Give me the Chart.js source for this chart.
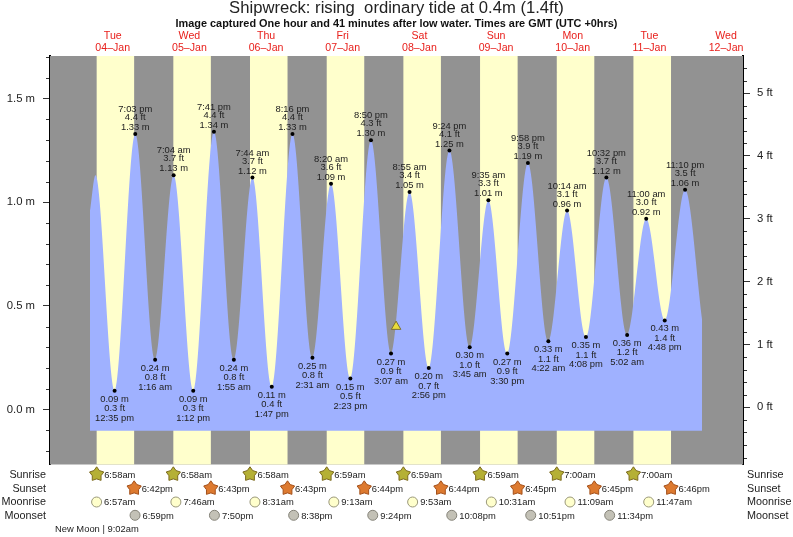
<!DOCTYPE html>
<html>
<head>
<meta charset="utf-8">
<title>Shipwreck tide chart</title>
<script src="https://cdn.jsdelivr.net/npm/chart.js@4/dist/chart.umd.min.js"></script>
<style>
  html, body { margin: 0; padding: 0; background: #fff; }
  canvas { display: block; }
</style>
</head>
<body>
<canvas id="tide_chart" width="793" height="537"></canvas>
<script>
// Tide turning points. Day is counted from 04-Jan.
var tideDays = [0, 0, 1, 1, 1, 1, 2, 2, 2, 2, 3, 3, 3, 3, 4, 4, 4, 4, 5, 5, 5, 5, 6, 6, 6, 6, 7, 7, 7, 7];
var tideClock = ['12:35 pm', '7:03 pm', '1:16 am', '7:04 am', '1:12 pm', '7:41 pm', '1:55 am', '7:44 am', '1:47 pm', '8:16 pm',
    '2:31 am', '8:20 am', '2:23 pm', '8:50 pm', '3:07 am', '8:55 am', '2:56 pm', '9:24 pm', '3:45 am', '9:35 am',
    '3:30 pm', '9:58 pm', '4:22 am', '10:14 am', '4:08 pm', '10:32 pm', '5:02 am', '11:00 am', '4:48 pm', '11:10 pm'];
var tideMetres = [0.09, 1.33, 0.24, 1.13, 0.09, 1.34, 0.24, 1.12, 0.11, 1.33, 0.25, 1.09, 0.15, 1.30, 0.27, 1.05,
    0.20, 1.25, 0.30, 1.01, 0.27, 1.19, 0.33, 0.96, 0.35, 1.12, 0.36, 0.92, 0.43, 1.06];
var tideFeet = ['0.3', '4.4', '0.8', '3.7', '0.3', '4.4', '0.8', '3.7', '0.4', '4.4', '0.8', '3.6', '0.5', '4.3', '0.9', '3.4',
    '0.7', '4.1', '1.0', '3.3', '0.9', '3.9', '1.1', '3.1', '1.1', '3.7', '1.2', '3.0', '1.4', '3.5'];

// Unlabelled ends of the curve, as hours from 04-Jan 00:00 and metres
var leadIn = [[4.88, 0.96], [6.6, 1.13]];
var leadOut = [[196.5, 0.432]];

var nowMarker = { hour: 100.7, metres: 0.4 };

var dayNames = ['Tue', 'Wed', 'Thu', 'Fri', 'Sat', 'Sun', 'Mon', 'Tue', 'Wed'];
var dayDates = ['04–Jan', '05–Jan', '06–Jan', '07–Jan', '08–Jan', '09–Jan', '10–Jan', '11–Jan', '12–Jan'];

var sunrise = ['6:58am', '6:58am', '6:58am', '6:59am', '6:59am', '6:59am', '7:00am', '7:00am'];
var sunset = ['6:42pm', '6:43pm', '6:43pm', '6:44pm', '6:44pm', '6:45pm', '6:45pm', '6:46pm'];
var moonrise = ['6:57am', '7:46am', '8:31am', '9:13am', '9:53am', '10:31am', '11:09am', '11:47am'];
var moonset = ['6:59pm', '7:50pm', '8:38pm', '9:24pm', '10:08pm', '10:51pm', '11:34pm'];

var metreTicks = [0, 0.5, 1, 1.5];
var metreMinorTicks = [-0.2, -0.1, 0.1, 0.2, 0.3, 0.4, 0.6, 0.7, 0.8, 0.9, 1.1, 1.2, 1.3, 1.4, 1.6, 1.7];
var feetTicks = [0, 1, 2, 3, 4, 5];
var feetMinorTicks = [-0.8, -0.6, -0.4, -0.2, 0.2, 0.4, 0.6, 0.8, 1.2, 1.4, 1.6, 1.8, 2.2, 2.4, 2.6, 2.8,
    3.2, 3.4, 3.6, 3.8, 4.2, 4.4, 4.6, 4.8, 5.2, 5.4];

var FONT = '"Liberation Sans", Helvetica, Arial, sans-serif';
var TEXT = '#222';

function clockToHours(s) {
    var m = s.match(/(\d+):(\d+)\s*(am|pm)/);
    return (parseInt(m[1]) % 12) + parseInt(m[2]) / 60 + (m[3] == 'pm' ? 12 : 0);
}

var tideHours = tideClock.map(function (c, i) { return tideDays[i] * 24 + clockToHours(c); });

var curve = leadIn.map(function (p) { return { x: p[0], y: p[1] }; })
    .concat(tideHours.map(function (h, i) { return { x: h, y: tideMetres[i] }; }))
    .concat(leadOut.map(function (p) { return { x: p[0], y: p[1] }; }));

// grey night with pale yellow daylight behind the tide
var bands = {
    id: 'bands',
    beforeDatasetsDraw: function (chart) {
        var a = chart.chartArea, x = chart.scales.x, c = chart.ctx;
        c.save();
        c.fillStyle = '#929292';
        c.fillRect(a.left, a.top, a.width, a.height);
        c.fillStyle = '#ffffcc';
        sunrise.forEach(function (t, i) {
            var x0 = x.getPixelForValue(i * 24 + clockToHours(t));
            var x1 = x.getPixelForValue(i * 24 + clockToHours(sunset[i]));
            c.fillRect(x0, a.top, x1 - x0, a.height);
        });
        c.restore();
    }
};

function minorTicks(c, scale, values, x0, x1) {
    values.forEach(function (v) {
        var y = Math.round(scale.getPixelForValue(v)) + 0.5;
        c.beginPath();
        c.moveTo(x0, y);
        c.lineTo(x1, y);
        c.stroke();
    });
}

function star(c, x, y, fill, edge) {
    c.beginPath();
    for (var i = 0; i < 10; i++) {
        var r = i % 2 ? 4.6 : 7.5;
        var ang = -Math.PI / 2 + i * Math.PI / 5;
        c.lineTo(x + r * Math.cos(ang), y + r * Math.sin(ang));
    }
    c.closePath();
    c.fillStyle = fill;
    c.strokeStyle = edge;
    c.lineWidth = 1;
    c.fill();
    c.stroke();
}

function moon(c, x, y, fill, edge) {
    c.beginPath();
    c.arc(x, y, 5, 0, Math.PI * 2);
    c.fillStyle = fill;
    c.strokeStyle = edge;
    c.lineWidth = 1;
    c.fill();
    c.stroke();
}

var annotations = {
    id: 'annotations',
    afterDraw: function (chart) {
        var c = chart.ctx, x = chart.scales.x, y = chart.scales.y;
        c.save();

        // minor ticks
        c.strokeStyle = '#333';
        c.lineWidth = 1;
        minorTicks(c, y, metreMinorTicks, 46, 49);
        minorTicks(c, chart.scales.y2, feetMinorTicks, 744, 747);

        // labels on each high and low water
        c.fillStyle = TEXT;
        c.textAlign = 'center';
        c.textBaseline = 'middle';
        c.font = '9.4px ' + FONT;
        tideHours.forEach(function (h, i) {
            var px = x.getPixelForValue(h);
            var py = y.getPixelForValue(tideMetres[i]);
            var m = tideMetres[i].toFixed(2) + ' m', ft = tideFeet[i] + ' ft';
            if (tideMetres[i] > 0.6) {
                c.fillText(tideClock[i], px, py - 24.5);
                c.fillText(ft, px, py - 16.5);
                c.fillText(m, px, py - 6.5);
            } else {
                c.fillText(m, px, py + 8.5);
                c.fillText(ft, px, py + 18);
                c.fillText(tideClock[i], px, py + 27.5);
            }
        });

        // sun and moon rows under the plot
        var rows = [
            { name: 'Sunrise', times: sunrise, y: 474.3 },
            { name: 'Sunset', times: sunset, y: 488.3 },
            { name: 'Moonrise', times: moonrise, y: 502 },
            { name: 'Moonset', times: moonset, y: 515.3 }
        ];
        rows.forEach(function (row, r) {
            row.times.forEach(function (t, i) {
                var px = x.getPixelForValue(i * 24 + clockToHours(t));
                if (r == 0) star(c, px, row.y, '#b5b035', '#7c6a1e');
                if (r == 1) star(c, px, row.y, '#dd7a30', '#a3501a');
                if (r == 2) moon(c, px, row.y, '#ffffcc', '#99977a');
                if (r == 3) moon(c, px, row.y, '#c3c1b6', '#848278');
                c.fillStyle = TEXT;
                c.textAlign = 'left';
                c.font = '9.4px ' + FONT;
                c.fillText(t, px + 7.5, row.y + 0.8);
            });
            c.fillStyle = TEXT;
            c.font = '10.8px ' + FONT;
            c.textAlign = 'right';
            c.fillText(row.name, 46, row.y + 0.5);
            c.textAlign = 'left';
            c.fillText(row.name, 747, row.y + 0.5);
        });

        c.font = '9.4px ' + FONT;
        c.fillText('New Moon | 9:02am', 55, 529.5);
        c.restore();
    }
};

var ctx = document.getElementById('tide_chart').getContext('2d');
var tideChart = new Chart(ctx, {
    type: 'line',
    data: {
        datasets: [{
            label: 'Now',
            data: [{ x: nowMarker.hour, y: nowMarker.metres }],
            showLine: false,
            pointStyle: 'triangle',
            pointRadius: 5.5,
            pointBackgroundColor: '#e8dc3a',
            pointBorderColor: '#7c7030',
            pointBorderWidth: 1,
            order: 0
        }, {
            label: 'Tide',
            data: curve,
            cubicInterpolationMode: 'monotone',
            borderWidth: 0,
            backgroundColor: '#9fb1ff',
            fill: { value: -0.102 },
            pointRadius: function (c) {
                var i = c.dataIndex;
                return (i < leadIn.length || i >= curve.length - leadOut.length) ? 0 : 2;
            },
            pointBackgroundColor: '#000',
            pointBorderWidth: 0,
            order: 1
        }]
    },
    options: {
        responsive: false,
        animation: false,
        layout: { padding: { bottom: 72.5 } },
        plugins: {
            legend: { display: false },
            tooltip: { enabled: false },
            title: {
                display: true,
                text: 'Shipwreck: rising  ordinary tide at 0.4m (1.4ft)',
                color: TEXT,
                font: { family: FONT, size: 16.65, weight: 'normal', lineHeight: 1 },
                padding: { top: 0.2, bottom: 0.15 }
            },
            subtitle: {
                display: true,
                text: 'Image captured One hour and 41 minutes after low water. Times are GMT (UTC +0hrs)',
                color: '#111',
                font: { family: FONT, size: 10.9, weight: 'bold', lineHeight: 1 },
                padding: { top: 1.6, bottom: 0 }
            }
        },
        scales: {
            x: {
                type: 'linear',
                position: 'top',
                min: -7.64,
                max: 209.3,
                grid: { display: false, drawTicks: false },
                border: { display: false },
                afterBuildTicks: function (axis) {
                    axis.ticks = dayNames.map(function (d, i) { return { value: i * 24 + 12 }; });
                },
                afterFit: function (axis) { axis.height = 26.5; },
                ticks: {
                    autoSkip: false,
                    maxRotation: 0,
                    padding: 2,
                    color: '#e8201c',
                    font: { family: FONT, size: 10.6, lineHeight: 1.14 },
                    callback: function (v, i) { return [dayNames[i], dayDates[i]]; }
                }
            },
            y: {
                type: 'linear',
                position: 'left',
                min: -0.2654,
                max: 1.706,
                grid: { drawOnChartArea: false, tickLength: 7, tickColor: '#333' },
                border: { color: '#000', width: 2 },
                afterBuildTicks: function (axis) {
                    axis.ticks = metreTicks.map(function (v) { return { value: v }; });
                },
                afterFit: function (axis) { axis.width = 50; },
                ticks: {
                    padding: 8,
                    color: TEXT,
                    font: { family: FONT, size: 11.3 },
                    callback: function (v) { return v.toFixed(1) + ' m'; }
                }
            },
            y2: {
                type: 'linear',
                position: 'right',
                min: -0.91,
                max: 5.59,
                grid: { drawOnChartArea: false, tickLength: 7, tickColor: '#333' },
                border: { color: '#000', width: 2 },
                afterBuildTicks: function (axis) {
                    axis.ticks = feetTicks.map(function (v) { return { value: v }; });
                },
                afterFit: function (axis) { axis.width = 50; },
                ticks: {
                    padding: 7,
                    color: TEXT,
                    font: { family: FONT, size: 11.3 },
                    callback: function (v) { return v + ' ft'; }
                }
            }
        }
    },
    plugins: [bands, annotations]
});
</script>
</body>
</html>
